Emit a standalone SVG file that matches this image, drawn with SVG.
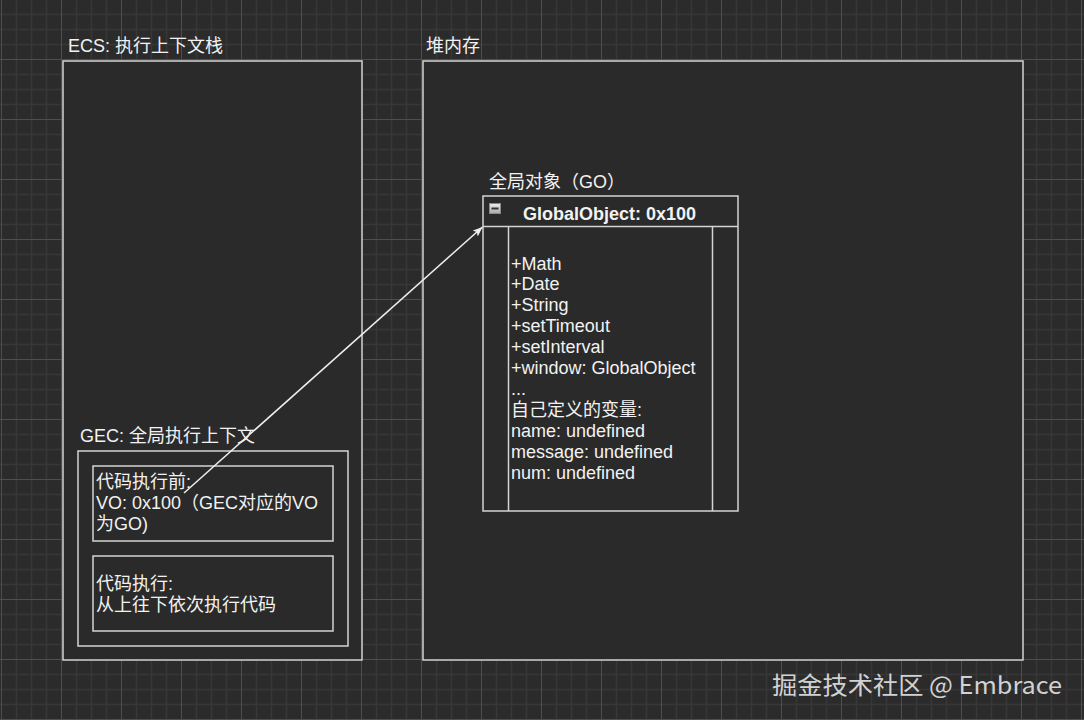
<svg xmlns="http://www.w3.org/2000/svg" width="1084" height="720" viewBox="0 0 1084 720">
<style>
.box{fill:#2a2a2a;stroke:#d4d4d4;stroke-width:1.5}
.t{font-family:"Liberation Sans","Noto Sans CJK SC",sans-serif;font-size:18px;fill:#f2f2f2}
.b{font-weight:bold}
.wm{font-family:"Noto Sans CJK SC","Noto Sans",sans-serif;font-size:24px;fill:#d2d2d2}
</style>
<defs>
<pattern id="grid" patternUnits="userSpaceOnUse" x="1" y="-1" width="60" height="60">
<rect width="60" height="60" fill="#2b2b2b"/>
<path d="M15.5,0V60M30.5,0V60M45.5,0V60M0,15.5H60M0,30.5H60M0,45.5H60" stroke="#373737" stroke-width="1.5" fill="none"/>
<path d="M0.5,0V60M0,0.5H60" stroke="#4e4e4e" stroke-width="1" fill="none"/>
</pattern>
<linearGradient id="ig" x1="0" y1="0" x2="0" y2="1">
<stop offset="0" stop-color="#eeeeee"/>
<stop offset="1" stop-color="#a8a8a8"/>
</linearGradient>
<marker id="arr" markerWidth="12" markerHeight="10" refX="10" refY="4" orient="auto" markerUnits="userSpaceOnUse">
<path d="M0,0 L10,4 L0,8 L2.5,4 Z" fill="#eeeeee"/>
</marker>
</defs>
<rect width="1084" height="720" fill="url(#grid)"/>

<g id="ecs">
<rect class="box" x="63" y="61" width="299" height="599"/>
<text class="t" x="68" y="52">ECS: 执行上下文栈</text>
</g>

<g id="heap">
<rect class="box" x="423" y="61" width="600" height="599"/>
<text class="t" x="426" y="52">堆内存</text>
</g>

<g id="go">
<text class="t" x="489" y="188">全局对象（GO）</text>
<rect class="box" x="483" y="196" width="255" height="315"/>
<line x1="483" y1="226.5" x2="738" y2="226.5" stroke="#d4d4d4" stroke-width="1.5"/>
<line x1="508.5" y1="226.5" x2="508.5" y2="511" stroke="#d4d4d4" stroke-width="1.5"/>
<line x1="712.5" y1="226.5" x2="712.5" y2="511" stroke="#d4d4d4" stroke-width="1.5"/>
<rect x="489.5" y="203.5" width="11" height="10" fill="url(#ig)" stroke="#8a8a8a" stroke-width="1"/>
<rect x="491.5" y="207.5" width="7" height="2" fill="#333333"/>
<text class="t b" x="523" y="220">GlobalObject: 0x100</text>
<text class="t" x="511">
<tspan x="511" y="269.5">+Math</tspan>
<tspan x="511" y="290.4">+Date</tspan>
<tspan x="511" y="311.3">+String</tspan>
<tspan x="511" y="332.2">+setTimeout</tspan>
<tspan x="511" y="353.1">+setInterval</tspan>
<tspan x="511" y="374">+window: GlobalObject</tspan>
<tspan x="511" y="394.9">...</tspan>
<tspan x="511" y="415.8">自己定义的变量:</tspan>
<tspan x="511" y="436.7">name: undefined</tspan>
<tspan x="511" y="457.6">message: undefined</tspan>
<tspan x="511" y="478.5">num: undefined</tspan>
</text>
</g>

<g id="gec">
<text class="t" x="80" y="442">GEC: 全局执行上下文</text>
<rect class="box" x="78" y="451" width="270" height="195"/>
</g>

<g id="before">
<rect class="box" x="93" y="466" width="240" height="75"/>
<text class="t">
<tspan x="96" y="488">代码执行前:</tspan>
<tspan x="96" y="509">VO: 0x100（GEC对应的VO</tspan>
<tspan x="96" y="530">为GO)</tspan>
</text>
</g>

<g id="exec">
<rect class="box" x="93" y="556" width="240" height="75"/>
<text class="t">
<tspan x="96" y="590">代码执行:</tspan>
<tspan x="96" y="611">从上往下依次执行代码</tspan>
</text>
</g>

<g id="connectors">
<line x1="184" y1="493" x2="482.5" y2="227" stroke="#eeeeee" stroke-width="1.5" marker-end="url(#arr)"/>
</g>

<text class="wm" x="772" y="694" textLength="290" lengthAdjust="spacingAndGlyphs">掘金技术社区 @ Embrace</text>
</svg>
